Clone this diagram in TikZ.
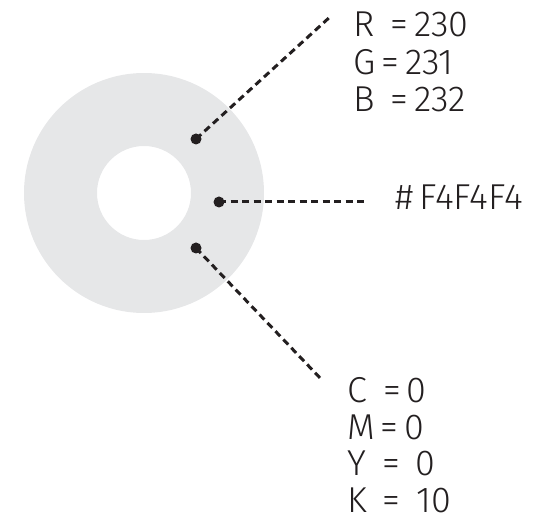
\documentclass[tikz,border=0pt]{standalone}
\usepackage{fontspec}
\setmainfont{Fira Sans Light}

\definecolor{ringgray}{RGB}{230,231,232}
\definecolor{inkdark}{RGB}{35,31,32}

\tikzset{
  dot/.style={circle, fill=inkdark, inner sep=0pt, minimum size=11pt},
  leader/.style={draw=inkdark, line width=3pt, dash pattern=on 7pt off 4.5pt},
  value/.style={anchor=base west, inner sep=0pt, text depth=0pt, text=inkdark,
    font=\fontsize{36pt}{40pt}\selectfont}
}

\begin{document}
\begin{tikzpicture}[x=1pt, y=-1pt]
  \useasboundingbox (0,0) rectangle (542,516);
  % ==== RING ====
  \fill[ringgray, even odd rule] (144,193) circle (120) (144,193) circle (47);
  % ==== DOTS ====
  \node[dot] (dotrgb) at (196,139) {};
  \node[dot] (dothex) at (219,202) {};
  \node[dot] (dotcmyk) at (196,248) {};
  % ==== FREE ENDS ====
  \coordinate (endrgb) at (331,16);
  \coordinate (endhex) at (368,202);
  \coordinate (endcmyk) at (322,380);
  \draw[leader] (dotrgb.center) -- (endrgb);
  \draw[leader] (dothex.center) -- (endhex);
  \draw[leader] (dotcmyk.center) -- (endcmyk);
  % ==== RGB ====
  \node[value] (rval) at (353,36.5) {R \,=\,230};
  \node[value] (gval) at (353,74.5) {G\,=\,231};
  \node[value] (bval) at (353,111.5) {B \,=\,232};
  % ==== HEX ====
  \node[value] (hexval) at (395,209.5) {\#\,F4F4F4};
  % ==== CMYK ====
  \node[value] (cval) at (347,402.5) {C \,=\,0};
  \node[value] (mval) at (347,439) {M\,=\,0};
  \node[value] (yval) at (347,475.5) {Y \,= \,0};
  \node[value] (kval) at (347,512) {K \,= \,10};
\end{tikzpicture}
\end{document}
